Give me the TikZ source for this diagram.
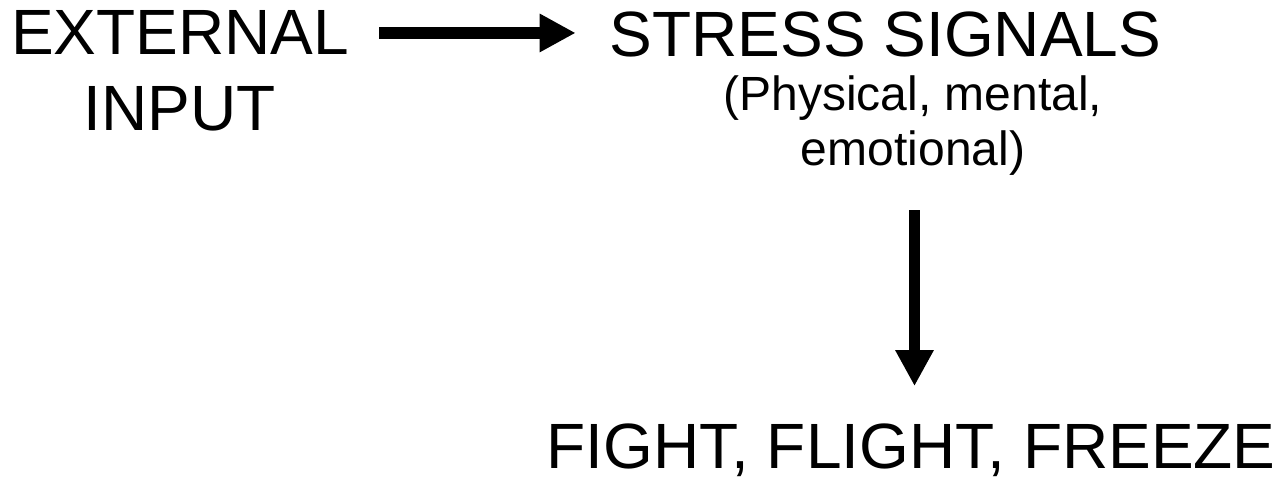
\documentclass[tikz,border=0pt]{standalone}
\usepackage{fontspec}
\setmainfont{Liberation Sans}
\usetikzlibrary{arrows.meta}
\tikzset{
  bigtext/.style={inner sep=0pt, font=\fontsize{64}{76}\selectfont, align=center},
  smalltext/.style={inner sep=0pt, font=\fontsize{48}{55}\selectfont, align=center},
  bigarrow/.style={line width=11.5pt, -{Triangle[length=36pt,width=36pt]}}
}
\begin{document}
\begin{tikzpicture}[x=1pt,y=-1pt]
\useasboundingbox[fill=white] (0,0) rectangle (1280,478);
\node[bigtext, anchor=north] (ext) at (180,10) {EXTERNAL\\INPUT};
\node[bigtext, anchor=base] (stress) at (885.5,56.5) {STRESS SIGNALS};
\node[smalltext, anchor=north] (sub) at (913,76) {(Physical, mental,\\emotional)};
\node[bigtext, anchor=base] (fight) at (911,468) {FIGHT, FLIGHT, FREEZE};
\draw[bigarrow, shorten <=30pt, shorten >=34pt] ([yshift=1.5pt]ext.east |- stress.west) -- ([yshift=1.5pt]stress.west);
\draw[bigarrow, shorten <=34pt, shorten >=37pt] ([xshift=1.5pt]sub.south) -- ([xshift=1.5pt]sub.south |- fight.north);
\end{tikzpicture}
\end{document}
